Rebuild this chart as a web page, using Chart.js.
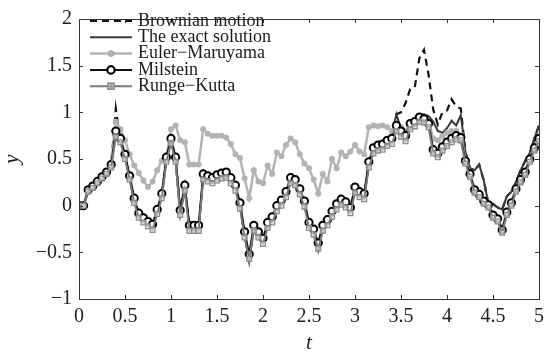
<!DOCTYPE html>
<html><head><meta charset="utf-8">
<script src="https://cdn.jsdelivr.net/npm/chart.js@4.4.1/dist/chart.umd.min.js"></script>
<style>html,body{margin:0;padding:0;background:#fff}</style>
</head><body>
<canvas id="c" width="550" height="356"></canvas>
<script>
// ---- data ----
const tValues = [
0.00,0.05,0.10,0.15,0.20,0.25,0.30,0.35,0.40,0.45,
0.50,0.55,0.60,0.65,0.70,0.75,0.80,0.85,0.90,0.95,
1.00,1.05,1.10,1.15,1.20,1.25,1.30,1.35,1.40,1.45,
1.50,1.55,1.60,1.65,1.70,1.75,1.80,1.85,1.90,1.95,
2.00,2.05,2.10,2.15,2.20,2.25,2.30,2.35,2.40,2.45,
2.50,2.55,2.60,2.65,2.70,2.75,2.80,2.85,2.90,2.95,
3.00,3.05,3.10,3.15,3.20,3.25,3.30,3.35,3.40,3.45,
3.50,3.55,3.60,3.65,3.70,3.75,3.80,3.85,3.90,3.95,
4.00,4.05,4.10,4.15,4.20,4.25,4.30,4.35,4.40,4.45,
4.50,4.55,4.60,4.65,4.70,4.75,4.80,4.85,4.90,4.95,
5.00];
const brownian = [
0.00,0.00,0.16,0.20,0.25,0.30,0.35,0.43,1.04,0.70,
0.53,0.30,0.06,-0.10,-0.15,-0.19,-0.23,-0.06,0.11,0.50,
0.70,0.50,-0.07,0.20,-0.24,-0.24,-0.24,0.31,0.29,0.27,
0.30,0.32,0.33,0.27,0.19,0.00,-0.31,-0.60,-0.24,-0.31,
-0.38,-0.21,-0.15,-0.03,0.03,0.12,0.27,0.25,0.15,0.02,
-0.21,-0.28,-0.48,-0.24,-0.18,-0.09,-0.01,0.04,0.01,-0.05,
0.17,0.12,0.10,0.44,0.60,0.63,0.65,0.72,0.75,0.98,
1.00,1.10,1.25,1.27,1.58,1.67,1.40,1.03,0.87,1.00,
1.02,1.14,1.06,1.04,0.58,0.40,0.38,0.44,0.27,0.02,
0.02,-0.02,-0.04,0.10,0.15,0.25,0.38,0.48,0.56,0.72,
0.86];
const exact = [
0.00,0.00,0.16,0.20,0.25,0.30,0.35,0.43,0.78,0.70,
0.53,0.30,0.06,-0.10,-0.15,-0.19,-0.23,-0.06,0.11,0.50,
0.70,0.50,-0.07,0.20,-0.24,-0.24,-0.24,0.31,0.29,0.27,
0.30,0.32,0.33,0.27,0.19,0.00,-0.31,-0.60,-0.24,-0.31,
-0.38,-0.21,-0.15,-0.03,0.03,0.12,0.27,0.25,0.15,0.02,
-0.21,-0.28,-0.48,-0.24,-0.18,-0.09,-0.01,0.04,0.01,-0.05,
0.17,0.12,0.10,0.44,0.60,0.63,0.65,0.72,0.75,0.98,
0.82,0.80,0.90,0.94,0.97,0.98,0.96,0.90,0.80,0.78,
0.83,0.91,0.86,0.97,0.58,0.40,0.38,0.44,0.27,0.02,
0.02,-0.02,-0.04,0.10,0.15,0.25,0.38,0.48,0.56,0.72,
0.86];
const eulerMaruyama = [
0.00,0.00,0.18,0.22,0.27,0.32,0.37,0.45,0.90,0.82,
0.70,0.55,0.43,0.35,0.27,0.20,0.26,0.38,0.48,0.52,
0.82,0.86,0.70,0.68,0.44,0.44,0.44,0.82,0.77,0.75,
0.75,0.75,0.73,0.66,0.55,0.51,0.29,0.08,0.38,0.26,
0.24,0.43,0.34,0.57,0.53,0.65,0.72,0.68,0.55,0.45,
0.40,0.28,0.13,0.34,0.26,0.50,0.40,0.57,0.53,0.58,
0.65,0.58,0.55,0.84,0.86,0.85,0.86,0.84,0.80,0.88,
0.84,0.80,0.90,0.92,0.95,0.94,0.90,0.72,0.70,0.74,
0.78,0.80,0.80,0.76,0.50,0.35,0.18,0.12,0.06,0.02,
-0.09,-0.13,-0.25,-0.06,0.04,0.19,0.29,0.37,0.51,0.63,
0.73];
const milstein = [
0.00,0.00,0.17,0.21,0.26,0.31,0.36,0.44,0.80,0.72,
0.55,0.32,0.08,-0.08,-0.13,-0.17,-0.20,-0.04,0.13,0.52,
0.72,0.52,-0.05,0.22,-0.21,-0.21,-0.21,0.34,0.32,0.30,
0.33,0.35,0.36,0.30,0.22,0.03,-0.28,-0.52,-0.21,-0.28,
-0.35,-0.18,-0.12,0.00,0.06,0.15,0.30,0.28,0.18,0.05,
-0.18,-0.25,-0.40,-0.21,-0.15,-0.06,0.02,0.07,0.04,-0.02,
0.20,0.15,0.13,0.47,0.62,0.65,0.66,0.70,0.72,0.86,
0.80,0.75,0.88,0.90,0.95,0.93,0.88,0.60,0.56,0.63,
0.68,0.72,0.75,0.73,0.48,0.34,0.17,0.12,0.05,0.01,
-0.10,-0.14,-0.26,-0.07,0.03,0.18,0.28,0.36,0.50,0.62,
0.72];
const rungeKutta = [
0.00,0.00,0.15,0.19,0.24,0.29,0.34,0.41,0.74,0.68,
0.50,0.28,0.03,-0.13,-0.18,-0.22,-0.26,-0.09,0.08,0.47,
0.67,0.47,-0.10,0.16,-0.27,-0.27,-0.27,0.28,0.26,0.24,
0.27,0.29,0.30,0.24,0.16,-0.03,-0.34,-0.57,-0.27,-0.34,
-0.41,-0.24,-0.18,-0.06,0.00,0.09,0.24,0.22,0.12,-0.01,
-0.24,-0.31,-0.46,-0.27,-0.21,-0.12,-0.04,0.01,-0.02,-0.08,
0.14,0.09,0.07,0.41,0.56,0.59,0.60,0.64,0.66,0.80,
0.74,0.69,0.82,0.85,0.90,0.89,0.84,0.56,0.52,0.59,
0.64,0.68,0.71,0.70,0.45,0.31,0.14,0.09,0.02,-0.02,
-0.13,-0.17,-0.29,-0.10,0.00,0.15,0.25,0.33,0.47,0.59,
0.69];
const seriesNames = ['Brownian motion','The exact solution','Euler\u2212Maruyama','Milstein','Runge\u2212Kutta'];
const xTicks = [0,0.5,1,1.5,2,2.5,3,3.5,4,4.5,5];
const yTicks = [-1,-0.5,0,0.5,1,1.5,2];
const xTitle = 't';
const yTitle = 'y';

// ---- helpers ----
function pts(vals){ return tValues.map((t,i)=>({x:t,y:vals[i]})); }
function fmt(v){ const s = String(Math.round(v*100)/100); return s.replace('-', '\u2212'); }
const SERIF = '"Liberation Serif", "DejaVu Serif", serif';

const boxPlugin = {
  id:'box',
  afterDraw(chart){
    const {ctx, chartArea:a, scales} = chart;
    ctx.save();
    ctx.strokeStyle = '#333';
    ctx.lineWidth = 1;
    ctx.strokeRect(Math.round(a.left)+0.5, Math.round(a.top)+0.5, Math.round(a.right-a.left), Math.round(a.bottom-a.top));
    const tl = 4;
    ctx.beginPath();
    xTicks.forEach(v=>{
      const px = Math.round(scales.x.getPixelForValue(v))+0.5;
      ctx.moveTo(px, a.bottom); ctx.lineTo(px, a.bottom-tl);
      ctx.moveTo(px, a.top); ctx.lineTo(px, a.top+tl);
    });
    yTicks.forEach(v=>{
      const py = Math.round(scales.y.getPixelForValue(v))+0.5;
      ctx.moveTo(a.left, py); ctx.lineTo(a.left+tl, py);
      ctx.moveTo(a.right, py); ctx.lineTo(a.right-tl, py);
    });
    ctx.stroke();
    ctx.restore();
  }
};

const legendPlugin = {
  id:'customLegend',
  afterDraw(chart){
    const ctx = chart.ctx;
    ctx.save();
    const x0 = 90, x1 = 132, xm = 111, xt = 138;
    chart.data.datasets.forEach((ds, i)=>{
      const y = 21 + i*16.3;
      ctx.beginPath();
      ctx.setLineDash(ds.borderDash || []);
      ctx.strokeStyle = ds.borderColor;
      ctx.lineWidth = ds.borderWidth;
      ctx.moveTo(x0, y); ctx.lineTo(x1, y);
      ctx.stroke();
      ctx.setLineDash([]);
      if (ds.pointRadius > 0) {
        Chart.helpers.drawPoint(ctx, {pointStyle: ds.pointStyle, rotation:0, radius: ds.pointRadius, borderWidth: ds.pointBorderWidth}, xm, y);
        ctx.fillStyle = ds.pointBackgroundColor;
        ctx.strokeStyle = ds.pointBorderColor;
        ctx.lineWidth = ds.pointBorderWidth;
        ctx.beginPath();
        if (ds.pointStyle === 'rect') {
          const r = ds.pointRadius;
          ctx.rect(xm - r*0.9, y - r*0.9, r*1.8, r*1.8);
        } else {
          ctx.arc(xm, y, ds.pointRadius, 0, Math.PI*2);
        }
        ctx.fill();
        if (ds.pointBorderWidth > 0) ctx.stroke();
      }
      ctx.fillStyle = '#1a1a1a';
      ctx.font = '18px ' + SERIF;
      ctx.textBaseline = 'middle';
      ctx.textAlign = 'left';
      ctx.fillText(ds.label, xt, y);
    });
    ctx.restore();
  }
};

const chart = new Chart(document.getElementById('c'), {
  type:'line',
  data:{
    datasets:[
      {label:seriesNames[0], data:pts(brownian), borderColor:'#111', borderWidth:2.2, borderDash:[7,5], pointRadius:0, order:5},
      {label:seriesNames[1], data:pts(exact), borderColor:'#3a3a3a', borderWidth:2, pointRadius:0, order:4},
      {label:seriesNames[2], data:pts(eulerMaruyama), borderColor:'#b3b3b3', borderWidth:2.5, pointStyle:'circle', pointRadius:3, pointBackgroundColor:'#b3b3b3', pointBorderColor:'#b3b3b3', pointBorderWidth:0, order:3},
      {label:seriesNames[3], data:pts(milstein), borderColor:'#111', borderWidth:2, pointStyle:'circle', pointRadius:3.6, pointBackgroundColor:'#ffffff', pointBorderColor:'#000', pointBorderWidth:2, order:2},
      {label:seriesNames[4], data:pts(rungeKutta), borderColor:'#7a7a7a', borderWidth:2, pointStyle:'rect', pointRadius:3.4, pointBackgroundColor:'rgba(235,235,235,0.6)', pointBorderColor:'#8c8c8c', pointBorderWidth:1.3, order:1}
    ]
  },
  options:{
    responsive:false,
    animation:false,
    devicePixelRatio:1,
    layout:{padding:{top:10, right:5, left:0, bottom:0}},
    elements:{line:{tension:0}},
    plugins:{legend:{display:false}, tooltip:{enabled:false}},
    scales:{
      x:{
        type:'linear', min:0, max:5,
        afterBuildTicks(s){ s.ticks = xTicks.map(v=>({value:v})); },
        afterFit(s){ s.height = 57; },
        grid:{display:false, drawTicks:false},
        border:{display:false},
        ticks:{font:{family:SERIF, size:20}, color:'#222', padding:6, maxRotation:0, autoSkip:false, callback:(v)=>fmt(v)},
        title:{display:true, text:xTitle, font:{family:SERIF, size:21, style:'italic'}, color:'#222', padding:{top:0,bottom:0}}
      },
      y:{
        type:'linear', min:-1, max:2,
        afterBuildTicks(s){ s.ticks = yTicks.map(v=>({value:v})); },
        afterFit(s){ s.width = 79; },
        grid:{display:false, drawTicks:false},
        border:{display:false},
        ticks:{font:{family:SERIF, size:20}, color:'#222', padding:7, autoSkip:false, callback:(v)=>fmt(v)},
        title:{display:true, text:yTitle, font:{family:SERIF, size:21, style:'italic'}, color:'#222', padding:{top:0,bottom:0}}
      }
    }
  },
  plugins:[boxPlugin, legendPlugin]
});
</script>
</body></html>
